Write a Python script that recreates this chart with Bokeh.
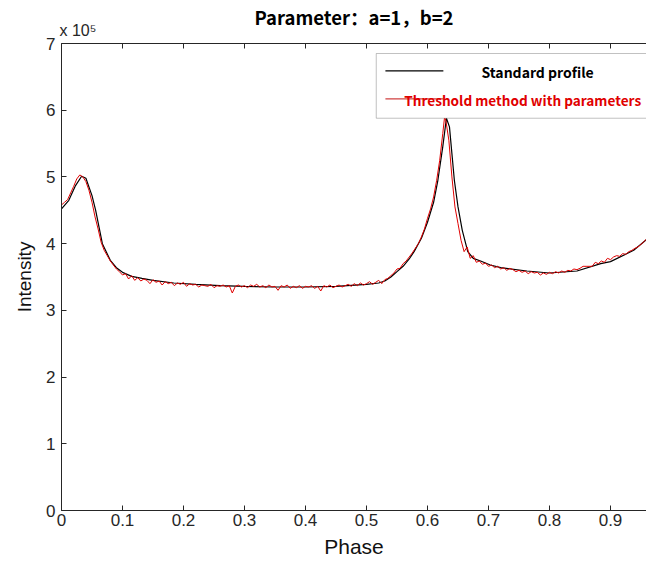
from bokeh.plotting import figure
from bokeh.models import (Range1d, LinearAxis, FixedTicker, Label, BoxAnnotation, Arrow, Title)
from bokeh.embed import file_html
from bokeh.resources import INLINE

# ---------------- data (intensity in units of 1e5) ----------------
phase_std = [0.000, 0.012, 0.023, 0.033, 0.040, 0.050, 0.056, 0.067, 0.080, 0.090,
             0.100, 0.115, 0.132, 0.150, 0.184, 0.220, 0.260, 0.300, 0.350, 0.400,
             0.450, 0.500, 0.520, 0.530, 0.540, 0.550, 0.560, 0.570, 0.578, 0.590,
             0.600, 0.610, 0.617, 0.625, 0.631, 0.636, 0.640, 0.644, 0.650, 0.657,
             0.666, 0.675, 0.687, 0.703, 0.720, 0.763, 0.800, 0.845, 0.884, 0.900,
             0.938, 0.960]
intensity_std = [4.52, 4.65, 4.87, 5.01, 4.98, 4.72, 4.50, 4.00, 3.75, 3.64,
                 3.57, 3.51, 3.48, 3.45, 3.41, 3.39, 3.37, 3.36, 3.35, 3.35,
                 3.36, 3.39, 3.41, 3.44, 3.50, 3.58, 3.66, 3.77, 3.88, 4.08,
                 4.32, 4.62, 4.95, 5.45, 5.88, 5.75, 5.35, 4.95, 4.55, 4.20,
                 3.88, 3.78, 3.74, 3.68, 3.64, 3.59, 3.56, 3.59, 3.70, 3.73,
                 3.90, 4.07]

phase_thr = [0.000, 0.005, 0.010, 0.015, 0.020, 0.025, 0.030, 0.035, 0.040, 0.045,
             0.050, 0.055, 0.060, 0.065, 0.070, 0.075, 0.080, 0.085, 0.090, 0.095,
             0.100, 0.105, 0.110, 0.115, 0.120, 0.125, 0.130, 0.135, 0.140, 0.145,
             0.150, 0.155, 0.160, 0.165, 0.170, 0.175, 0.180, 0.185, 0.190, 0.195,
             0.200, 0.205, 0.210, 0.215, 0.220, 0.225, 0.230, 0.235, 0.240, 0.245,
             0.250, 0.255, 0.260, 0.265, 0.270, 0.275, 0.280, 0.285, 0.290, 0.295,
             0.300, 0.305, 0.310, 0.315, 0.320, 0.325, 0.330, 0.335, 0.340, 0.345,
             0.350, 0.355, 0.360, 0.365, 0.370, 0.375, 0.380, 0.385, 0.390, 0.395,
             0.400, 0.405, 0.410, 0.415, 0.420, 0.425, 0.430, 0.435, 0.440, 0.445,
             0.450, 0.455, 0.460, 0.465, 0.470, 0.475, 0.480, 0.485, 0.490, 0.495,
             0.500, 0.505, 0.510, 0.515, 0.520, 0.525, 0.530, 0.535, 0.540, 0.545,
             0.550, 0.555, 0.560, 0.565, 0.570, 0.575, 0.580, 0.585, 0.590, 0.595,
             0.600, 0.605, 0.610, 0.615, 0.620, 0.625, 0.628, 0.630, 0.635, 0.640,
             0.645, 0.650, 0.655, 0.660, 0.665, 0.670, 0.675, 0.680, 0.685, 0.690,
             0.695, 0.700, 0.705, 0.710, 0.715, 0.720, 0.725, 0.730, 0.735, 0.740,
             0.745, 0.750, 0.755, 0.760, 0.765, 0.770, 0.775, 0.780, 0.785, 0.790,
             0.795, 0.800, 0.805, 0.810, 0.815, 0.820, 0.825, 0.830, 0.835, 0.840,
             0.845, 0.850, 0.855, 0.860, 0.865, 0.870, 0.875, 0.880, 0.885, 0.890,
             0.895, 0.900, 0.905, 0.910, 0.915, 0.920, 0.925, 0.930, 0.935, 0.940,
             0.945, 0.950, 0.955, 0.960]
intensity_thr = [4.58, 4.62, 4.66, 4.76, 4.86, 4.97, 5.03, 5.00, 4.93, 4.80,
                 4.62, 4.40, 4.22, 4.02, 3.90, 3.82, 3.74, 3.68, 3.62, 3.58,
                 3.53, 3.55, 3.47, 3.52, 3.45, 3.49, 3.44, 3.47, 3.45, 3.40,
                 3.46, 3.42, 3.44, 3.38, 3.43, 3.40, 3.42, 3.37, 3.41, 3.39,
                 3.42, 3.36, 3.40, 3.38, 3.39, 3.35, 3.38, 3.37, 3.36, 3.39,
                 3.34, 3.37, 3.36, 3.38, 3.35, 3.37, 3.26, 3.36, 3.38, 3.35,
                 3.37, 3.34, 3.38, 3.36, 3.39, 3.35, 3.37, 3.34, 3.38, 3.35,
                 3.36, 3.30, 3.37, 3.35, 3.38, 3.33, 3.36, 3.34, 3.37, 3.33,
                 3.36, 3.35, 3.37, 3.33, 3.36, 3.29, 3.37, 3.35, 3.38, 3.34,
                 3.36, 3.38, 3.35, 3.37, 3.39, 3.36, 3.40, 3.37, 3.41, 3.38,
                 3.40, 3.43, 3.39, 3.42, 3.45, 3.40, 3.46, 3.48, 3.52, 3.56,
                 3.62, 3.63, 3.70, 3.74, 3.80, 3.86, 3.93, 4.00, 4.10, 4.22,
                 4.38, 4.52, 4.70, 4.95, 5.25, 5.65, 5.90, 5.85, 5.55, 5.00,
                 4.55, 4.30, 4.05, 3.88, 3.95, 3.78, 3.82, 3.72, 3.74, 3.69,
                 3.71, 3.66, 3.68, 3.64, 3.66, 3.62, 3.64, 3.60, 3.63, 3.61,
                 3.58, 3.60, 3.57, 3.59, 3.55, 3.58, 3.56, 3.57, 3.53, 3.56,
                 3.54, 3.57, 3.55, 3.58, 3.56, 3.59, 3.57, 3.60, 3.59, 3.62,
                 3.61, 3.63, 3.66, 3.66, 3.66, 3.66, 3.72, 3.70, 3.74, 3.72,
                 3.78, 3.76, 3.80, 3.82, 3.81, 3.85, 3.84, 3.88, 3.90, 3.93,
                 3.95, 3.99, 4.03, 4.08]

x_ticks = [0, 0.1, 0.2, 0.3, 0.4, 0.5, 0.6, 0.7, 0.8, 0.9]
x_tick_labels = ["0", "0.1", "0.2", "0.3", "0.4", "0.5", "0.6", "0.7", "0.8", "0.9"]
y_ticks = [0, 1, 2, 3, 4, 5, 6, 7]
y_tick_labels = ["0", "1", "2", "3", "4", "5", "6", "7"]

title_text = "Parameter：a=1，b=2"
exponent_text = "x 10\u2075"
legend_labels = ["Standard profile", "Threshold method with parameters"]

# ---------------- figure ----------------
AX = "#262626"
p = figure(width=646, height=566, output_backend="svg", toolbar_location=None,
           x_range=Range1d(0, 0.959), y_range=Range1d(0, 7),
           min_border_left=61, min_border_right=0, min_border_top=43, min_border_bottom=56,
           x_axis_location=None, y_axis_location=None)
p.outline_line_color = None
p.grid.visible = False
p.background_fill_color = "white"
p.border_fill_color = "white"

def style_axis(ax):
    ax.axis_line_color = AX
    ax.axis_line_width = 1
    ax.major_tick_line_color = AX
    ax.major_tick_in = 5
    ax.major_tick_out = 0
    ax.minor_tick_line_color = None
    ax.major_label_text_font = "Liberation Sans"
    ax.major_label_text_color = AX
    ax.major_label_text_font_size = "17px"
    ax.axis_label_text_font = "Liberation Sans"
    ax.axis_label_text_font_style = "normal"
    ax.axis_label_text_color = "#111111"

xb = LinearAxis(ticker=FixedTicker(ticks=x_ticks),
                major_label_overrides={t: l for t, l in zip(x_ticks, x_tick_labels)},
                axis_label="Phase")
style_axis(xb)
xb.axis_label_text_font_size = "21px"
xb.major_label_standoff = 3
xb.axis_label_standoff = 6
p.add_layout(xb, "below")

xa = LinearAxis(ticker=FixedTicker(ticks=x_ticks),
                major_label_overrides={t: "" for t in x_ticks})
style_axis(xa)
xa.major_label_text_font_size = "1px"
xa.major_label_standoff = 0
p.add_layout(xa, "above")

yl = LinearAxis(ticker=FixedTicker(ticks=y_ticks),
                major_label_overrides={t: l for t, l in zip(y_ticks, y_tick_labels)},
                axis_label="Intensity")
style_axis(yl)
yl.axis_label_text_font_size = "19px"
yl.major_label_standoff = 6
yl.axis_label_standoff = 8
p.add_layout(yl, "left")

# exponent marker above the y axis, and the main title
exp_title = Title(text=exponent_text, align="left", offset=-2, standoff=10,
                  text_font="Liberation Sans", text_font_style="normal",
                  text_font_size="16px", text_color=AX)
p.add_layout(exp_title, "above")
p.title.text = title_text
p.title.align = "center"
p.title.text_font = "Noto Sans CJK SC"
p.title.text_font_style = "bold"
p.title.text_font_size = "18.5px"
p.title.text_color = "black"
p.title.standoff = -30

# ---------------- data lines ----------------
p.line(phase_std, intensity_std, line_color="black", line_width=1.2)
p.line(phase_thr, intensity_thr, line_color="#e00000", line_width=1.0)

# ---------------- legend (drawn manually) ----------------
p.add_layout(BoxAnnotation(left=0.516, right=1.2, top=6.85, bottom=5.88,
                           fill_color="white", fill_alpha=1.0,
                           line_color="#333333", line_width=1))
p.add_layout(Arrow(end=None, x_start=0.531, x_end=0.626, y_start=6.59, y_end=6.59,
                   line_color="black", line_width=1.2))
p.add_layout(Arrow(end=None, x_start=0.531, x_end=0.626, y_start=6.17, y_end=6.17,
                   line_color="#d04040", line_width=1.2))
p.add_layout(Label(x=0.6885, y=6.566, text=legend_labels[0], text_font="Noto Sans CJK SC",
                   text_font_style="bold", text_font_size="14px", text_color="black",
                   text_baseline="middle"))
p.add_layout(Label(x=0.562, y=6.15, text=legend_labels[1], text_font="Noto Sans CJK SC",
                   text_font_style="bold", text_font_size="13.6px", text_color="#e00000",
                   text_baseline="middle"))

open("out.html", "w").write(file_html(p, INLINE))
